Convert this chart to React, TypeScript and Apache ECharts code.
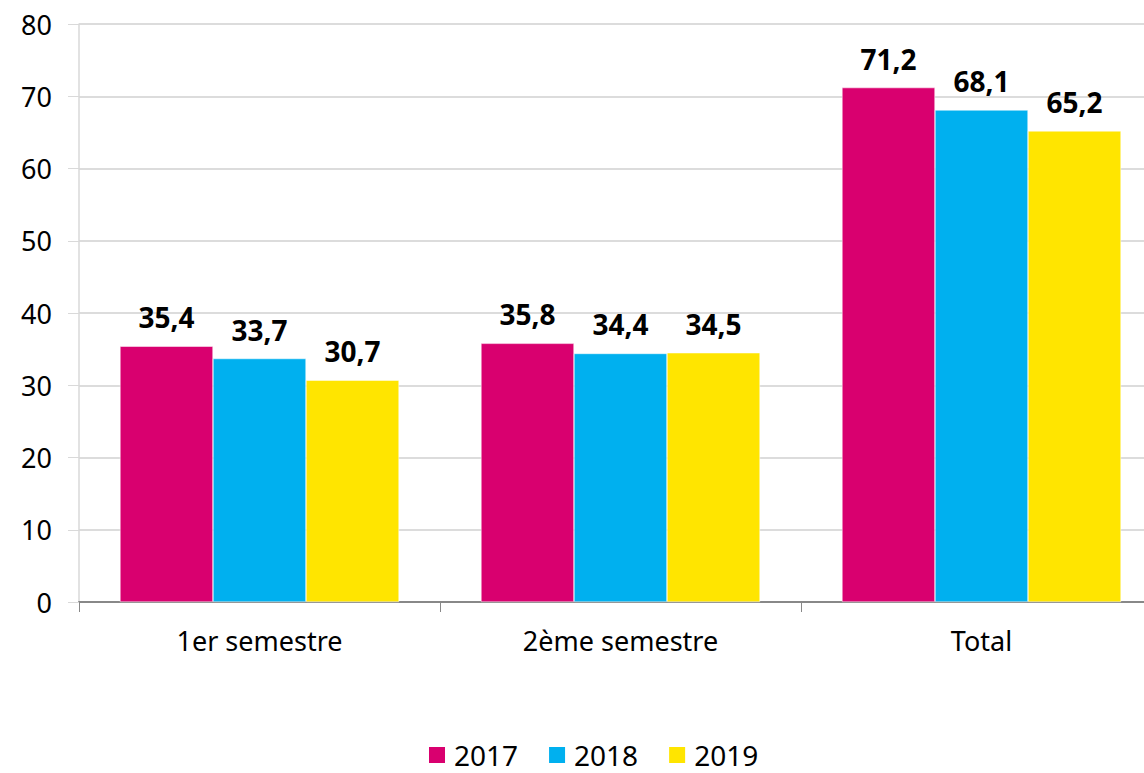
import React, { useEffect, useRef } from "react";
import * as echarts from "echarts";

const categories = ["1er semestre", "2ème semestre", "Total"];
const years = ["2017", "2018", "2019"];
const values2017 = [35.4, 35.8, 71.2];
const values2018 = [33.7, 34.4, 68.1];
const values2019 = [30.7, 34.5, 65.2];
const colors = ["#D9006F", "#00B0EF", "#FFE500"];
const yTicks = { min: 0, max: 80, interval: 10 };

const FONT = "'Noto Sans', 'Open Sans', sans-serif";

export default function App() {
  const ref = useRef<HTMLDivElement>(null);
  useEffect(() => {
    if (!ref.current) return;
    const chart = echarts.init(ref.current, undefined, { renderer: "svg" });
    const seriesData = [values2017, values2018, values2019];
    chart.setOption({
      animation: false,
      textStyle: { fontFamily: FONT },
      grid: { left: 79, top: 24, right: 8, bottom: 171, containLabel: false },
      legend: {
        data: years,
        left: 427,
        top: 740,
        padding: 0,
        itemWidth: 18,
        itemHeight: 18,
        itemGap: 29,
        icon: "rect",
        textStyle: { fontSize: 28, lineHeight: 30, color: "#000", fontFamily: FONT, padding: [0, 0, 0, 3] },
      },
      xAxis: {
        type: "category",
        data: categories,
        axisLine: { lineStyle: { color: "#888", width: 2 } },
        axisTick: { show: true, length: 10, lineStyle: { color: "#888" }, alignWithLabel: false },
        axisLabel: { fontSize: 27, color: "#000", margin: 25, fontFamily: FONT },
      },
      yAxis: {
        type: "value",
        min: yTicks.min,
        max: yTicks.max,
        interval: yTicks.interval,
        axisLine: { show: true, lineStyle: { color: "#d9d9d9", width: 1.5 } },
        axisTick: { show: true, length: 11, lineStyle: { color: "#d9d9d9" } },
        axisLabel: { fontSize: 27, color: "#000", margin: 27, fontFamily: FONT },
        splitLine: { lineStyle: { color: "#d0d0d0", width: 1.5 } },
      },
      series: years.map((y, i) => ({
        name: y,
        type: "bar",
        data: seriesData[i],
        barGap: "0%",
        barCategoryGap: "22.7%",
        itemStyle: { color: colors[i], borderColor: "#fff", borderWidth: 0.5 },
        label: {
          show: true,
          position: "top",
          distance: 15,
          fontSize: 28,
          fontWeight: "bold",
          color: "#000",
          fontFamily: FONT,
          formatter: (p: any) => String(p.value.toFixed(1)).replace(".", ","),
        },
      })),
    });
    return () => chart.dispose();
  }, []);
  return (
    <div style={{ position: "fixed", left: 0, top: 0, width: 1144, height: 773, overflow: "hidden", background: "#fff" }}>
      <div ref={ref} style={{ width: 1170, height: 773 }} />
    </div>
  );
}
